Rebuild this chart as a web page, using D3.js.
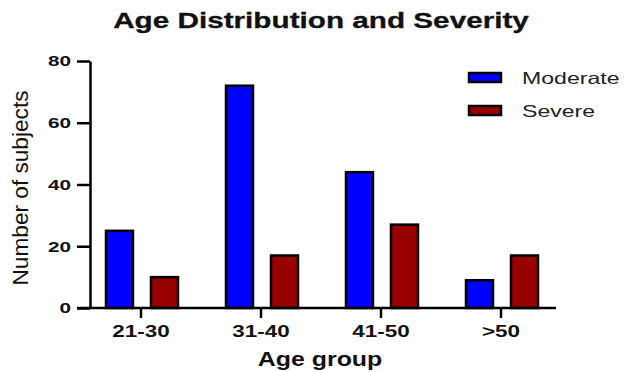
<!DOCTYPE html>
<html>
<head>
<meta charset="utf-8">
<script src="https://cdn.jsdelivr.net/npm/d3@7"></script>
<style>
  body { margin: 0; background: #fff; }
  svg { display: block; font-family: "Liberation Sans", Arial, sans-serif; }
</style>
</head>
<body>
<div id="chart"></div>
<script>
// data
const ageGroups = ["21-30", "31-40", "41-50", ">50"];
const seriesNames = ["Moderate", "Severe"];
const moderateValues = [25, 72, 44, 9];
const severeValues = [10, 17, 27, 17];
const yTicks = [0, 20, 40, 60, 80];

const colors = { Moderate: "#0000ff", Severe: "#990000" };

const width = 624, height = 372;

const svg = d3.select("#chart").append("svg")
  .attr("width", width)
  .attr("height", height);

// the reference lettering is drawn wide: stretch glyphs with a horizontal scale
function widen(sel, k) {
  sel.each(function() {
    const t = d3.select(this);
    const x = +t.attr("x") || 0;
    const yy = +t.attr("y") || 0;
    t.attr("x", 0).attr("y", 0)
      .attr("transform", `translate(${x},${yy}) scale(${k},1)`);
  });
}

const rows = ageGroups.map((g, i) => ({ group: g, Moderate: moderateValues[i], Severe: severeValues[i] }));

const axisX = 90;
const x0 = d3.scaleBand().domain(ageGroups).range([81, 561]);
const x1 = d3.scaleBand().domain(seriesNames).range([25, 97]).paddingInner(0.4);
const y = d3.scaleLinear().domain([0, 80]).range([308, 61]);

// title
svg.append("text")
  .attr("x", 321).attr("y", 28)
  .attr("text-anchor", "middle")
  .attr("font-size", 22).attr("font-weight", "bold")
  .attr("fill", "#111").attr("stroke", "#111").attr("stroke-width", 0.3)
  .text("Age Distribution and Severity")
  .call(widen, 1.35);

// bars
const groups = svg.append("g").selectAll("g")
  .data(rows)
  .join("g")
  .attr("transform", d => `translate(${x0(d.group)},0)`);

groups.selectAll("rect")
  .data(d => seriesNames.map(s => ({ key: s, value: d[s] })))
  .join("rect")
  .attr("x", d => x1(d.key))
  .attr("width", x1.bandwidth())
  .attr("y", d => y(d.value))
  .attr("height", d => y(0) - y(d.value))
  .attr("fill", d => colors[d.key])
  .attr("stroke", "#000")
  .attr("stroke-width", 2.5);

// y axis
const yAxis = svg.append("g")
  .attr("transform", `translate(${axisX},0)`)
  .call(d3.axisLeft(y).tickValues(yTicks).tickSize(13).tickSizeOuter(0).tickPadding(6));
yAxis.select(".domain").attr("stroke", "#000").attr("stroke-width", 2.5);
yAxis.selectAll(".tick line").attr("stroke", "#000").attr("stroke-width", 2.5);
yAxis.selectAll(".tick text")
  .attr("font-size", 15).attr("font-weight", "bold")
  .attr("fill", "#111")
  .attr("font-family", "Liberation Sans, Arial, sans-serif")
  .call(widen, 1.38);

// x axis
const xAxis = svg.append("g")
  .attr("transform", `translate(0,${y(0)})`)
  .call(d3.axisBottom(x0).tickSize(10).tickSizeOuter(0).tickPadding(7));
xAxis.select(".domain").remove();
xAxis.append("line")
  .attr("x1", axisX - 13).attr("x2", x0.range()[1] - 5)
  .attr("y1", 0).attr("y2", 0)
  .attr("stroke", "#000").attr("stroke-width", 2.5);
xAxis.selectAll(".tick line").attr("stroke", "#000").attr("stroke-width", 2.5);
xAxis.selectAll(".tick text")
  .attr("font-size", 17).attr("font-weight", "bold")
  .attr("fill", "#111")
  .attr("font-family", "Liberation Sans, Arial, sans-serif")
  .attr("dy", null)
  .attr("y", 29)
  .call(widen, 1.32);

// axis titles
svg.append("text")
  .attr("x", 320).attr("y", 366)
  .attr("text-anchor", "middle")
  .attr("font-size", 19.5).attr("font-weight", "bold")
  .attr("fill", "#111")
  .text("Age group")
  .call(widen, 1.28);

svg.append("text")
  .attr("transform", "translate(28,188) rotate(-90)")
  .attr("text-anchor", "middle")
  .attr("font-size", 22)
  .attr("textLength", 195)
  .attr("lengthAdjust", "spacingAndGlyphs")
  .attr("fill", "#111")
  .text("Number of subjects");

// legend
const legend = svg.append("g").attr("transform", "translate(469,73)");
const item = legend.selectAll("g")
  .data(seriesNames)
  .join("g")
  .attr("transform", (d, i) => `translate(0,${i * 33})`);
item.append("rect")
  .attr("width", 32).attr("height", 9)
  .attr("fill", d => colors[d])
  .attr("stroke", "#000").attr("stroke-width", 2.5);
item.append("text")
  .attr("x", 53).attr("y", 11)
  .attr("font-size", 16.5)
  .attr("fill", "#222")
  .text(d => d)
  .call(widen, 1.4);
</script>
</body>
</html>
